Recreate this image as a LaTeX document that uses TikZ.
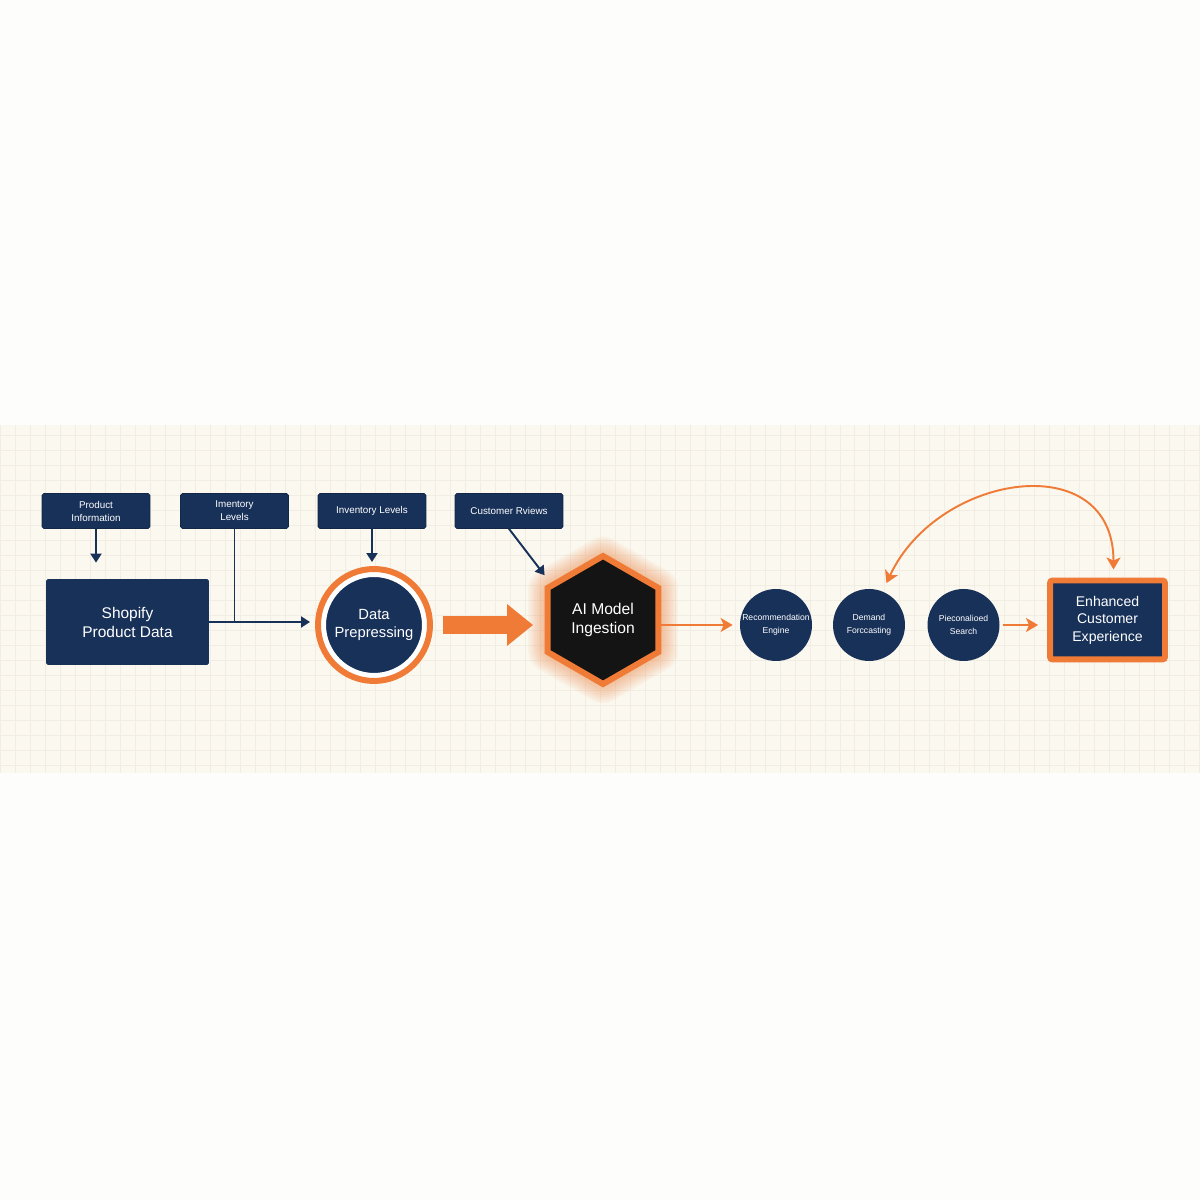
\documentclass[tikz,border=0pt]{standalone}
\usepackage{fontspec}
\setmainfont{Liberation Sans}
\usetikzlibrary{arrows.meta,shapes.geometric}

\definecolor{navy}{HTML}{183159}
\definecolor{flow}{HTML}{EF7B36}
\definecolor{paper}{HTML}{FBF8EF}
\definecolor{gridline}{HTML}{F1EDE2}
\definecolor{page}{HTML}{FDFDFC}

\begin{document}
\begin{tikzpicture}[%
      x=0.02cm, y=0.02cm, %
      source/.style={fill=navy, draw=navy!80!black, rounded corners=1pt, text=white,
        align=center, inner sep=1pt, minimum width=2.16cm, minimum height=0.7cm,
        font=\fontsize{5.6}{7.4}\selectfont},
      model/.style={circle, fill=navy, inner sep=0pt, minimum size=1.44cm, text=white,
        align=center, font=\fontsize{4.9}{7.2}\selectfont},
      hexa/.style={regular polygon, regular polygon sides=6, shape border rotate=30,
        inner sep=0pt, minimum size=2.56cm},
      navyarrow/.style={navy, line width=1.1pt, -{Triangle[length=0.18cm, width=0.22cm]}},
      thinflow/.style={flow, line width=1.1pt, -{Stealth[length=0.24cm, width=0.28cm, inset=0.06cm]}},
      fatarrow/.style={flow, line width=0.36cm, -{Triangle[length=0.52cm, width=0.8cm]}}
      ]
      \pgfmathsetmacro{\ymid}{575};
      \pgfmathsetmacro{\ytop}{689};

      \useasboundingbox (0,0) rectangle (1200,1200);
      \fill[page] (0,0) rectangle (1200,1200);

      % Paper band with grid
      \fill[paper] (0,427) rectangle (1200,775);
      \draw[gridline, line width=0.4pt, step=0.3cm] (0,427) grid (1200,775);

      % Sources
      \foreach \name/\xx/\txt in {%
        pinfo/96/{Product\\Information},%
        inv1/234.5/{Imentory\\Levels},%
        inv2/372/{Inventory Levels},%
        revs/509/{Customer Rviews}%
      }{
        \node[source] (\name) at (\xx, \ytop) {\txt};
      }

      \node[
      fill=navy,
      rounded corners=1pt,
      minimum width=3.26cm,
      minimum height=1.72cm,
      text=white,
      align=center,
      font=\fontsize{8.8}{10.8}\selectfont
      ] (shop) at (127.5, 578) {Shopify\\Product Data};

      \node[
      circle,
      fill=navy,
      draw=white,
      line width=2.85pt,
      minimum size=2.02cm,
      inner sep=0pt,
      text=white,
      align=center,
      font=\fontsize{8.4}{10}\selectfont
      ] (dp) at (374, \ymid) {Data\\Prepressing};
      \draw[flow, line width=3.4pt] (dp.center) circle (1.12cm);

      % Glow round the model
      \foreach \k in {1,...,10}{
        \node[hexa, fill=flow, fill opacity=0.05, rounded corners=6pt,
          minimum size=2.66cm+\k*0.08cm] (glow\k) at (603, 580) {};
      }
      \node[
      hexa,
      fill=black!92,
      draw=flow,
      line width=3.4pt,
      text=white,
      align=center,
      font=\fontsize{8.9}{10.8}\selectfont
      ] (hex) at (603, 580) {AI Model\\Ingestion};

      % Outputs
      \foreach \name/\xx/\txt in {%
        rec/776/{Recommendation\\Engine},%
        dem/869/{Demand\\Forccasting},%
        per/963.5/{Pieconalioed\\Search}%
      }{
        \node[model] (\name) at (\xx, \ymid) {\txt};
      }

      \node[
      fill=navy,
      draw=flow,
      line width=3.4pt,
      rounded corners=1.5pt,
      minimum width=2.3cm,
      minimum height=1.58cm,
      text=white,
      align=center,
      font=\fontsize{8}{10}\selectfont
      ] (enh) at (1107.5, 580) {Enhanced\\Customer\\Experience};

      % Connectors
      \draw[navyarrow, shorten >=0.32cm] (pinfo.south) -- (pinfo.south |- shop.north);
      \draw[navy, line width=1.1pt] (inv1.south) -- (inv1.south |- shop.east);
      \draw[navyarrow, shorten >=0.22cm] (shop.east) -- (shop.east -| dp.west);
      \draw[navyarrow, shorten >=0.2cm] (inv2.south) -- (inv2.south |- dp.north);
      \draw[navyarrow] (revs.south) -- ([yshift=11*0.02cm]hex.150);
      \draw[fatarrow, shorten <=0.32cm, shorten >=0.23cm] (dp.east) -- (dp.east -| hex.west);
      \draw[thinflow, shorten >=0.14cm] (hex.east |- rec.west) -- (rec.west);
      \draw[thinflow, shorten <=0.06cm, shorten >=0.18cm] (per.east) -- (per.east -| enh.west);
      \draw[flow, line width=1.1pt,
        {Stealth[length=0.24cm, width=0.28cm, inset=0.06cm]}-{Stealth[length=0.24cm, width=0.28cm, inset=0.06cm]},
        shorten <=0.16cm, shorten >=0.18cm]
        ([xshift=6*0.02cm]enh.north) to[out=90, in=65, looseness=1.45] (dem.68);

    \end{tikzpicture}
\end{document}
